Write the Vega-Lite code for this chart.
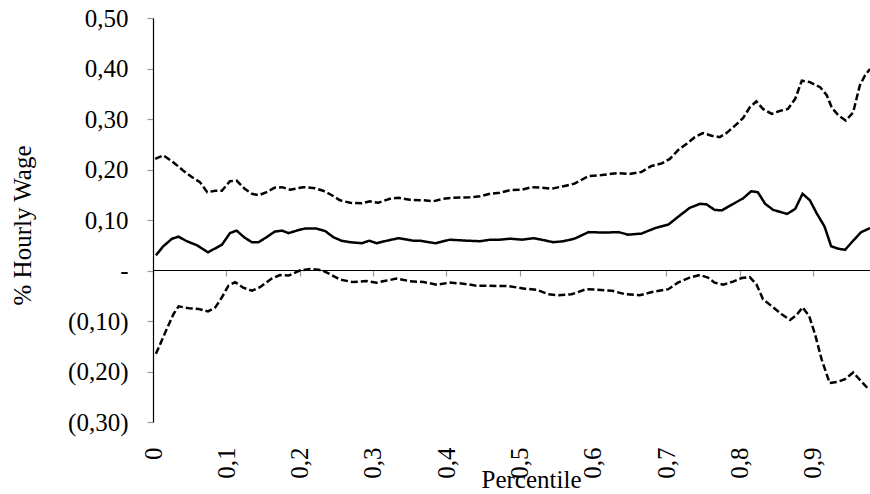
{
  "$schema": "https://vega.github.io/schema/vega-lite/v6.json",
  "autosize": "none",
  "width": 717,
  "height": 404,
  "padding": {"left": 153, "top": 18, "right": 0, "bottom": 72},
  "background": "white",
  "config": {"view": {"stroke": null}, "font": "Liberation Serif"},
  "data": {"values": [
    {"p":0.003,"s":"upper","v":0.221},{"p":0.014,"s":"upper","v":0.228},{"p":0.028,"s":"upper","v":0.214},{"p":0.041,"s":"upper","v":0.198},{"p":0.053,"s":"upper","v":0.185},{"p":0.064,"s":"upper","v":0.175},{"p":0.074,"s":"upper","v":0.155},{"p":0.085,"s":"upper","v":0.158},{"p":0.094,"s":"upper","v":0.158},{"p":0.105,"s":"upper","v":0.177},{"p":0.114,"s":"upper","v":0.178},{"p":0.125,"s":"upper","v":0.162},{"p":0.135,"s":"upper","v":0.152},{"p":0.144,"s":"upper","v":0.149},{"p":0.155,"s":"upper","v":0.155},{"p":0.166,"s":"upper","v":0.164},{"p":0.176,"s":"upper","v":0.165},{"p":0.187,"s":"upper","v":0.160},{"p":0.205,"s":"upper","v":0.165},{"p":0.221,"s":"upper","v":0.163},{"p":0.232,"s":"upper","v":0.158},{"p":0.244,"s":"upper","v":0.149},{"p":0.255,"s":"upper","v":0.139},{"p":0.269,"s":"upper","v":0.134},{"p":0.285,"s":"upper","v":0.133},{"p":0.296,"s":"upper","v":0.137},{"p":0.307,"s":"upper","v":0.134},{"p":0.323,"s":"upper","v":0.142},{"p":0.335,"s":"upper","v":0.144},{"p":0.350,"s":"upper","v":0.140},{"p":0.369,"s":"upper","v":0.139},{"p":0.382,"s":"upper","v":0.137},{"p":0.396,"s":"upper","v":0.142},{"p":0.410,"s":"upper","v":0.144},{"p":0.432,"s":"upper","v":0.145},{"p":0.446,"s":"upper","v":0.147},{"p":0.460,"s":"upper","v":0.152},{"p":0.473,"s":"upper","v":0.154},{"p":0.487,"s":"upper","v":0.159},{"p":0.503,"s":"upper","v":0.160},{"p":0.516,"s":"upper","v":0.165},{"p":0.530,"s":"upper","v":0.164},{"p":0.544,"s":"upper","v":0.162},{"p":0.560,"s":"upper","v":0.167},{"p":0.575,"s":"upper","v":0.172},{"p":0.594,"s":"upper","v":0.187},{"p":0.612,"s":"upper","v":0.189},{"p":0.635,"s":"upper","v":0.193},{"p":0.650,"s":"upper","v":0.191},{"p":0.666,"s":"upper","v":0.195},{"p":0.680,"s":"upper","v":0.207},{"p":0.694,"s":"upper","v":0.212},{"p":0.705,"s":"upper","v":0.221},{"p":0.716,"s":"upper","v":0.238},{"p":0.728,"s":"upper","v":0.251},{"p":0.739,"s":"upper","v":0.264},{"p":0.750,"s":"upper","v":0.272},{"p":0.762,"s":"upper","v":0.267},{"p":0.773,"s":"upper","v":0.264},{"p":0.782,"s":"upper","v":0.272},{"p":0.794,"s":"upper","v":0.287},{"p":0.805,"s":"upper","v":0.302},{"p":0.814,"s":"upper","v":0.323},{"p":0.823,"s":"upper","v":0.335},{"p":0.832,"s":"upper","v":0.320},{"p":0.844,"s":"upper","v":0.310},{"p":0.855,"s":"upper","v":0.316},{"p":0.866,"s":"upper","v":0.320},{"p":0.876,"s":"upper","v":0.340},{"p":0.885,"s":"upper","v":0.376},{"p":0.896,"s":"upper","v":0.373},{"p":0.910,"s":"upper","v":0.363},{"p":0.919,"s":"upper","v":0.347},{"p":0.926,"s":"upper","v":0.322},{"p":0.935,"s":"upper","v":0.307},{"p":0.945,"s":"upper","v":0.297},{"p":0.955,"s":"upper","v":0.313},{"p":0.964,"s":"upper","v":0.366},{"p":0.971,"s":"upper","v":0.386},{"p":0.978,"s":"upper","v":0.399},
    {"p":0.004,"s":"mid","v":0.030},{"p":0.014,"s":"mid","v":0.048},{"p":0.026,"s":"mid","v":0.063},{"p":0.035,"s":"mid","v":0.067},{"p":0.046,"s":"mid","v":0.058},{"p":0.060,"s":"mid","v":0.050},{"p":0.075,"s":"mid","v":0.036},{"p":0.094,"s":"mid","v":0.051},{"p":0.105,"s":"mid","v":0.074},{"p":0.114,"s":"mid","v":0.079},{"p":0.125,"s":"mid","v":0.065},{"p":0.135,"s":"mid","v":0.056},{"p":0.144,"s":"mid","v":0.056},{"p":0.155,"s":"mid","v":0.066},{"p":0.166,"s":"mid","v":0.077},{"p":0.176,"s":"mid","v":0.079},{"p":0.185,"s":"mid","v":0.074},{"p":0.196,"s":"mid","v":0.079},{"p":0.207,"s":"mid","v":0.083},{"p":0.223,"s":"mid","v":0.083},{"p":0.235,"s":"mid","v":0.078},{"p":0.246,"s":"mid","v":0.066},{"p":0.257,"s":"mid","v":0.059},{"p":0.269,"s":"mid","v":0.056},{"p":0.285,"s":"mid","v":0.054},{"p":0.295,"s":"mid","v":0.059},{"p":0.305,"s":"mid","v":0.054},{"p":0.319,"s":"mid","v":0.059},{"p":0.335,"s":"mid","v":0.064},{"p":0.355,"s":"mid","v":0.059},{"p":0.364,"s":"mid","v":0.059},{"p":0.385,"s":"mid","v":0.054},{"p":0.405,"s":"mid","v":0.061},{"p":0.428,"s":"mid","v":0.059},{"p":0.446,"s":"mid","v":0.058},{"p":0.460,"s":"mid","v":0.061},{"p":0.473,"s":"mid","v":0.061},{"p":0.487,"s":"mid","v":0.063},{"p":0.503,"s":"mid","v":0.061},{"p":0.519,"s":"mid","v":0.064},{"p":0.530,"s":"mid","v":0.061},{"p":0.546,"s":"mid","v":0.056},{"p":0.560,"s":"mid","v":0.058},{"p":0.575,"s":"mid","v":0.063},{"p":0.594,"s":"mid","v":0.076},{"p":0.616,"s":"mid","v":0.075},{"p":0.635,"s":"mid","v":0.076},{"p":0.648,"s":"mid","v":0.071},{"p":0.666,"s":"mid","v":0.073},{"p":0.685,"s":"mid","v":0.084},{"p":0.703,"s":"mid","v":0.091},{"p":0.716,"s":"mid","v":0.106},{"p":0.732,"s":"mid","v":0.124},{"p":0.746,"s":"mid","v":0.132},{"p":0.755,"s":"mid","v":0.131},{"p":0.766,"s":"mid","v":0.120},{"p":0.776,"s":"mid","v":0.119},{"p":0.794,"s":"mid","v":0.134},{"p":0.805,"s":"mid","v":0.143},{"p":0.816,"s":"mid","v":0.157},{"p":0.825,"s":"mid","v":0.155},{"p":0.835,"s":"mid","v":0.132},{"p":0.846,"s":"mid","v":0.120},{"p":0.865,"s":"mid","v":0.112},{"p":0.876,"s":"mid","v":0.122},{"p":0.886,"s":"mid","v":0.152},{"p":0.896,"s":"mid","v":0.139},{"p":0.905,"s":"mid","v":0.114},{"p":0.916,"s":"mid","v":0.087},{"p":0.925,"s":"mid","v":0.048},{"p":0.935,"s":"mid","v":0.043},{"p":0.944,"s":"mid","v":0.041},{"p":0.955,"s":"mid","v":0.059},{"p":0.966,"s":"mid","v":0.076},{"p":0.978,"s":"mid","v":0.084},
    {"p":0.004,"s":"lower","v":-0.165},{"p":0.016,"s":"lower","v":-0.125},{"p":0.028,"s":"lower","v":-0.086},{"p":0.035,"s":"lower","v":-0.071},{"p":0.050,"s":"lower","v":-0.075},{"p":0.062,"s":"lower","v":-0.076},{"p":0.075,"s":"lower","v":-0.081},{"p":0.085,"s":"lower","v":-0.073},{"p":0.094,"s":"lower","v":-0.053},{"p":0.103,"s":"lower","v":-0.030},{"p":0.112,"s":"lower","v":-0.023},{"p":0.123,"s":"lower","v":-0.034},{"p":0.135,"s":"lower","v":-0.040},{"p":0.146,"s":"lower","v":-0.033},{"p":0.162,"s":"lower","v":-0.016},{"p":0.173,"s":"lower","v":-0.009},{"p":0.185,"s":"lower","v":-0.010},{"p":0.200,"s":"lower","v":0.000},{"p":0.214,"s":"lower","v":0.003},{"p":0.230,"s":"lower","v":0.001},{"p":0.241,"s":"lower","v":-0.007},{"p":0.255,"s":"lower","v":-0.018},{"p":0.273,"s":"lower","v":-0.023},{"p":0.291,"s":"lower","v":-0.021},{"p":0.305,"s":"lower","v":-0.024},{"p":0.319,"s":"lower","v":-0.020},{"p":0.332,"s":"lower","v":-0.016},{"p":0.350,"s":"lower","v":-0.021},{"p":0.369,"s":"lower","v":-0.023},{"p":0.387,"s":"lower","v":-0.028},{"p":0.405,"s":"lower","v":-0.024},{"p":0.423,"s":"lower","v":-0.026},{"p":0.441,"s":"lower","v":-0.030},{"p":0.455,"s":"lower","v":-0.030},{"p":0.485,"s":"lower","v":-0.031},{"p":0.507,"s":"lower","v":-0.036},{"p":0.523,"s":"lower","v":-0.038},{"p":0.539,"s":"lower","v":-0.047},{"p":0.553,"s":"lower","v":-0.049},{"p":0.571,"s":"lower","v":-0.047},{"p":0.591,"s":"lower","v":-0.037},{"p":0.605,"s":"lower","v":-0.038},{"p":0.626,"s":"lower","v":-0.040},{"p":0.644,"s":"lower","v":-0.047},{"p":0.664,"s":"lower","v":-0.049},{"p":0.682,"s":"lower","v":-0.042},{"p":0.703,"s":"lower","v":-0.037},{"p":0.716,"s":"lower","v":-0.024},{"p":0.732,"s":"lower","v":-0.014},{"p":0.746,"s":"lower","v":-0.009},{"p":0.757,"s":"lower","v":-0.014},{"p":0.766,"s":"lower","v":-0.024},{"p":0.778,"s":"lower","v":-0.028},{"p":0.791,"s":"lower","v":-0.022},{"p":0.803,"s":"lower","v":-0.015},{"p":0.814,"s":"lower","v":-0.013},{"p":0.823,"s":"lower","v":-0.027},{"p":0.832,"s":"lower","v":-0.057},{"p":0.846,"s":"lower","v":-0.073},{"p":0.857,"s":"lower","v":-0.086},{"p":0.869,"s":"lower","v":-0.098},{"p":0.878,"s":"lower","v":-0.088},{"p":0.886,"s":"lower","v":-0.073},{"p":0.895,"s":"lower","v":-0.090},{"p":0.903,"s":"lower","v":-0.126},{"p":0.912,"s":"lower","v":-0.176},{"p":0.923,"s":"lower","v":-0.223},{"p":0.935,"s":"lower","v":-0.220},{"p":0.944,"s":"lower","v":-0.215},{"p":0.955,"s":"lower","v":-0.202},{"p":0.964,"s":"lower","v":-0.216},{"p":0.976,"s":"lower","v":-0.235}
  ]},
  "mark": {"type": "line", "color": "black", "strokeWidth": 2.5, "clip": true},
  "encoding": {
    "x": {
      "field": "p", "type": "quantitative",
      "scale": {"domain": [0, 0.978], "nice": false, "zero": false},
      "axis": {
        "values": [0, 0.1, 0.2, 0.3, 0.4, 0.5, 0.6, 0.7, 0.8, 0.9],
        "offset": -152,
        "grid": false,
        "domainColor": "black", "domainWidth": 1.2,
        "tickColor": "#9a9a9a", "tickSize": 6, "tickWidth": 1.2,
        "labelAngle": 270, "labelPadding": 171,
        "labelFont": "Liberation Serif", "labelFontSize": 25, "labelColor": "black",
        "labelExpr": "replace(format(datum.value, '.1~f'), '.', ',')",
        "labelFlush": false, "labelOverlap": false,
        "title": "Percentile",
        "titleFont": "Liberation Serif", "titleFontSize": 25, "titleFontWeight": "normal", "titleColor": "black",
        "titleX": 378, "titleY": 217, "titleBaseline": "alphabetic", "titleAlign": "center"
      }
    },
    "y": {
      "field": "v", "type": "quantitative",
      "scale": {"domain": [-0.3, 0.5], "nice": false},
      "axis": {
        "values": [-0.3, -0.2, -0.1, 0, 0.1, 0.2, 0.3, 0.4, 0.5],
        "grid": false,
        "domainColor": "black", "domainWidth": 1.2,
        "tickColor": "#9a9a9a", "tickSize": 6, "tickWidth": 1.2,
        "labelPadding": 19,
        "labelFont": "Liberation Serif", "labelFontSize": 25, "labelColor": "black",
        "labelExpr": "abs(datum.value) < 1e-9 ? '-\u2007\u00a0' : (datum.value < 0 ? '(' + replace(format(-datum.value, '.2f'), '.', ',') + ')' : replace(format(datum.value, '.2f'), '.', ',') + '\u00a0')",
        "labelFlush": false, "labelOverlap": false,
        "title": "% Hourly Wage",
        "titleFont": "Liberation Serif", "titleFontSize": 25, "titleFontWeight": "normal", "titleColor": "black",
        "titleAngle": 270, "titleX": -123, "titleY": 207, "titleBaseline": "alphabetic", "titleAlign": "center"
      }
    },
    "detail": {"field": "s"},
    "strokeDash": {
      "field": "s", "type": "nominal",
      "scale": {"domain": ["upper", "mid", "lower"], "range": [[7, 3], [1, 0], [7, 3]]},
      "legend": null
    }
  }
}
